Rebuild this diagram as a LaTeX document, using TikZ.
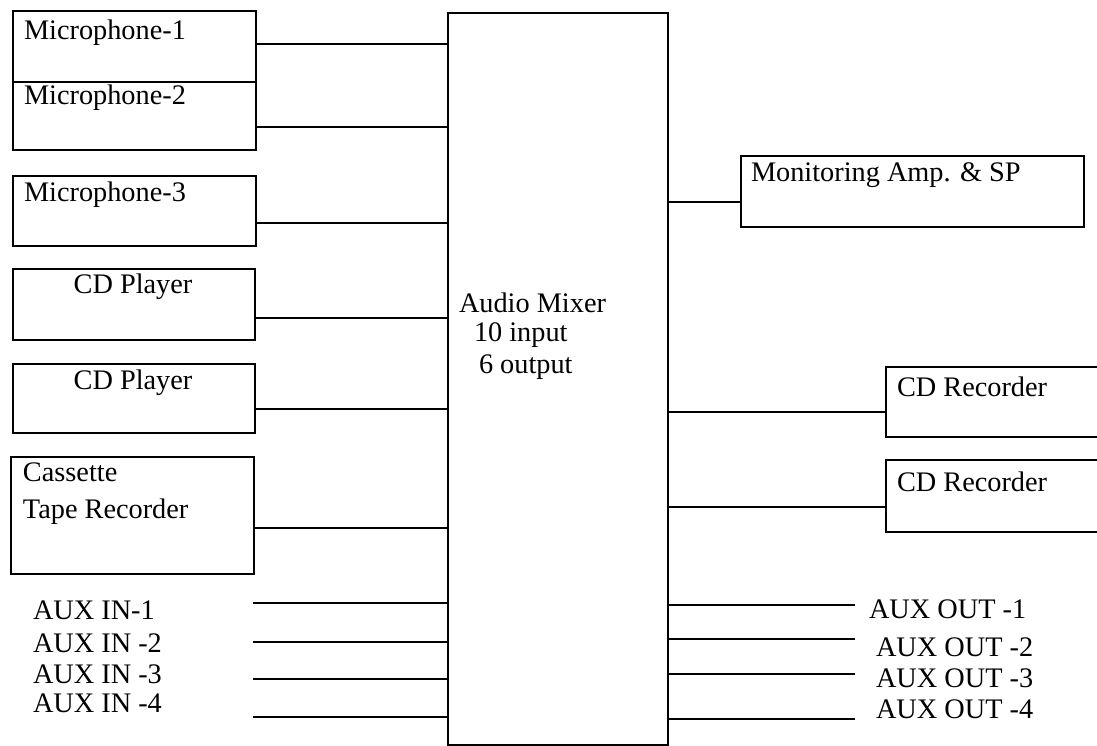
\documentclass[tikz,border=0pt]{standalone}
\usepackage{fontspec}
\setmainfont{Liberation Serif}

\begin{document}
\begin{tikzpicture}[x=1pt, y=-1pt, line width=2pt,
  box/.style={draw, rectangle, anchor=north west, inner sep=0pt},
  lbl/.style={anchor=west, inner sep=0pt},
  every node/.append style={font=\fontsize{28.3}{34}\selectfont}]
  \useasboundingbox (0,0) rectangle (1097,746);
  \clip (0,0) rectangle (1097,746);

  % mixer
  \node[box, minimum width=220pt, minimum height=732pt] (mixer) at (447,12) {};
  \node[lbl] (mixtxt) at (458,303) {Audio Mixer};
  \node[lbl] (mixin) at (473,335) {10 input};
  \node[lbl] (mixout) at (478,367) {6 output};

  % sources
  \node[box, minimum width=243pt, minimum height=71pt] (mic1) at (12,10) {};
  \node[box, minimum width=243pt, minimum height=68pt] (mic2) at (12,81) {};
  \node[box, minimum width=243pt, minimum height=70pt] (mic3) at (12,175) {};
  \node[box, minimum width=242pt, minimum height=71pt] (cd1) at (12,268) {};
  \node[box, minimum width=242pt, minimum height=69pt] (cd2) at (12,363) {};
  \node[box, minimum width=243pt, minimum height=117pt] (tape) at (10,456) {};
  \node[lbl] (mic1txt) at (23,33) {Microphone-1};
  \node[lbl] (mic2txt) at (23,98) {Microphone-2};
  \node[lbl] (mic3txt) at (23,195) {Microphone-3};
  \node[inner sep=0pt] (cd1txt) at (133,287) {CD Player};
  \node[inner sep=0pt] (cd2txt) at (133,383) {CD Player};
  \node[lbl] (tapetxt) at (22,472) {Cassette};
  \node[lbl] (tapetxtb) at (22,512) {Tape Recorder};

  \foreach \src/\y in {mic1/44, mic2/127, mic3/223, cd1/318, cd2/409, tape/528}
    \draw (\src.east |- 0,\y) -- (mixer.west |- 0,\y);

  % aux inputs
  \foreach \i/\y/\ty/\name in {1/603/610/AUX IN-1, 2/642/643/AUX IN -2,
                               3/679/674/AUX IN -3, 4/717/703/AUX IN -4}
  {
    \node[lbl] (auxin\i) at (32,\ty) {\name};
    \coordinate (ai\i) at (253,\y);
    \draw (ai\i) -- (mixer.west |- ai\i);
  }

  % outputs
  \node[box, minimum width=343pt, minimum height=71pt] (mon) at (740,155) {};
  \node[box, minimum width=260pt, minimum height=70pt] (cdr1) at (885,366) {};
  \node[box, minimum width=260pt, minimum height=72pt] (cdr2) at (885,459) {};
  \node[lbl] (montxt) at (750,175) {Monitoring Amp. \& SP};
  \node[lbl] (cdr1txt) at (896,387) {CD Recorder};
  \node[lbl] (cdr2txt) at (896,482) {CD Recorder};

  \foreach \dst/\y in {mon/202, cdr1/412, cdr2/507}
    \draw (mixer.east |- 0,\y) -- (\dst.west |- 0,\y);

  % aux outputs
  \foreach \i/\y/\tx/\ty/\name in {1/605/868/609/AUX OUT -1, 2/639/875/647/AUX OUT -2,
                                   3/674/875/678/AUX OUT -3, 4/719/875/709/AUX OUT -4}
  {
    \node[lbl] (auxout\i) at (\tx,\ty) {\name};
    \coordinate (ao\i) at (855,\y);
    \draw (mixer.east |- ao\i) -- (ao\i);
  }
\end{tikzpicture}
\end{document}
